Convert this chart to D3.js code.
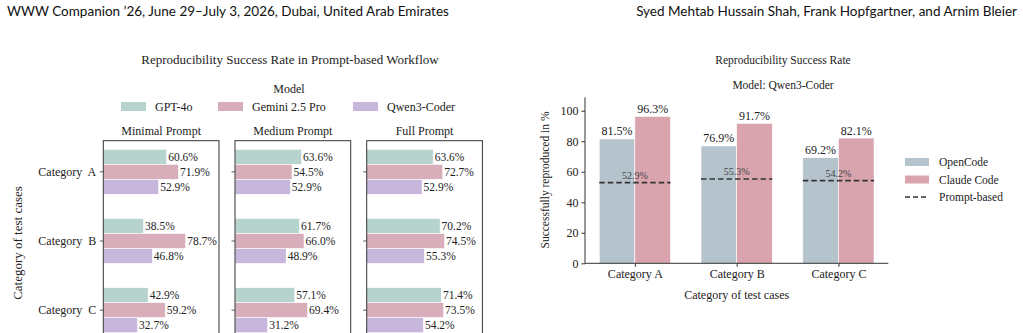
<!DOCTYPE html>
<html>
<head>
<meta charset="utf-8">
<script src="https://d3js.org/d3.v7.min.js"></script>
<style>
body { margin: 0; background: #fff; }
svg text { font-family: "Liberation Serif", "DejaVu Serif", "Noto Serif", Tinos, "Times New Roman", Times, serif; fill: #222; }
svg text.hdr { font-family: "Lato", "Open Sans", sans-serif; font-size: 13.5px; fill: #111; }
</style>
</head>
<body>
<svg id="chart" width="1023" height="333" font-family="Liberation Serif, DejaVu Serif, serif"></svg>
<script>
// ---- data: left chart (prompt-based workflow) ----
const categories = ["A", "B", "C"];
const models = ["GPT-4o", "Gemini 2.5 Pro", "Qwen3-Coder"];
const prompts = ["Minimal Prompt", "Medium Prompt", "Full Prompt"];
// values[prompt][category] = [GPT-4o, Gemini, Qwen]
const minimalVals = [[60.6, 71.9, 52.9], [38.5, 78.7, 46.8], [42.9, 59.2, 32.7]];
const mediumVals  = [[63.6, 54.5, 52.9], [61.7, 66.0, 48.9], [57.1, 69.4, 31.2]];
const fullVals    = [[63.6, 72.7, 52.9], [70.2, 74.5, 55.3], [71.4, 73.5, 54.2]];
const modelColors = ["#b7d3cd", "#d9aebb", "#c7b7dc"];

// ---- data: right chart (Qwen3-Coder) ----
const toolNames = ["OpenCode", "Claude Code"];
const openCodeVals = [81.5, 76.9, 69.2];
const claudeCodeVals = [96.3, 91.7, 82.1];
const promptBasedVals = [52.9, 55.3, 54.2];
const toolColors = ["#b5c3cd", "#d9a4ae"];
const yTicks = [0, 20, 40, 60, 80, 100];

const serif = "'Liberation Serif', 'DejaVu Serif', 'Noto Serif', Tinos, serif";
const svg = d3.select("#chart");

// header line
svg.append("text").attr("class", "hdr").attr("x", 7).attr("y", 16)
  .text("WWW Companion \u201926, June 29\u2013July 3, 2026, Dubai, United Arab Emirates");
svg.append("text").attr("class", "hdr").attr("x", 1017).attr("y", 16)
  .attr("text-anchor", "end")
  .text("Syed Mehtab Hussain Shah, Frank Hopfgartner, and Arnim Bleier");

// ================= left chart =================
svg.append("text").attr("x", 290).attr("y", 64).attr("text-anchor", "middle")
  .attr("font-size", 13).text("Reproducibility Success Rate in Prompt-based Workflow");
svg.append("text").attr("x", 289).attr("y", 93).attr("text-anchor", "middle")
  .attr("font-size", 12).text("Model");

const legX = [121, 218, 353];
models.forEach((m, i) => {
  svg.append("rect").attr("x", legX[i]).attr("y", 102).attr("width", 25).attr("height", 9)
    .attr("fill", modelColors[i]);
  svg.append("text").attr("x", legX[i] + 34).attr("y", 111).attr("font-size", 12).text(m);
});

const panelX = [103.3, 235, 366.7];
const panelW = 115.7;
const allVals = [minimalVals, mediumVals, fullVals];
const y = d3.scaleLinear().domain([-0.45, 2.45]).range([140.7, 341.3]);
const hue = d3.scaleBand().domain([0, 1, 2]).range([-22.5, 22.5]);
const x = d3.scaleLinear().domain([0, 110.6]).range([0, panelW]);

prompts.forEach((p, pi) => {
  const g = svg.append("g").attr("transform", `translate(${panelX[pi]},0)`);
  g.append("text").attr("x", panelW / 2).attr("y", 135).attr("text-anchor", "middle")
    .attr("font-size", 12).text(p);
  categories.forEach((c, ci) => {
    allVals[pi][ci].forEach((v, mi) => {
      const yy = y(ci) + hue(mi);
      g.append("rect").attr("x", x(0)).attr("y", yy).attr("width", x(v))
        .attr("height", hue.bandwidth()).attr("fill", modelColors[mi])
        .attr("stroke", "#fff").attr("stroke-width", 0.6);
      g.append("text").attr("x", x(v) + 1.5).attr("y", yy + hue.bandwidth() / 2 + 4)
        .attr("font-size", 11.5).text(v.toFixed(1) + "%");
    });
    g.append("line").attr("x1", -3.5).attr("x2", 0).attr("y1", y(ci)).attr("y2", y(ci))
      .attr("stroke", "#333").attr("stroke-width", 0.8);
    if (pi === 0) {
      g.append("text").attr("x", -7).attr("y", y(ci) + 4).attr("text-anchor", "end")
        .attr("font-size", 12).attr("xml:space", "preserve").text("Category  " + c);
    }
  });
  g.append("rect").attr("x", 0).attr("y", y.range()[0]).attr("width", panelW)
    .attr("height", y.range()[1] - y.range()[0]).attr("fill", "none")
    .attr("stroke", "#333").attr("stroke-width", 1);
});

svg.append("text").attr("transform", "translate(22,243) rotate(-90)")
  .attr("text-anchor", "middle").attr("font-size", 13).text("Category of test cases");

// ================= right chart =================
const rx = d3.scaleLinear().domain([-0.49, 2.49]).range([585, 888.3]);
const ry = d3.scaleLinear().domain([0, 108.8]).range([263.3, 97.3]);
const bw = rx(0.35) - rx(0);

svg.append("text").attr("x", 783).attr("y", 64).attr("text-anchor", "middle")
  .attr("font-size", 11.5).text("Reproducibility Success Rate");
svg.append("text").attr("x", 783).attr("y", 89).attr("text-anchor", "middle")
  .attr("font-size", 11.5).text("Model: Qwen3-Coder");

const series = [openCodeVals, claudeCodeVals];
series.forEach((vals, si) => {
  vals.forEach((v, ci) => {
    const x0 = rx(ci) - bw + si * bw;
    svg.append("rect").attr("x", x0).attr("y", ry(v)).attr("width", bw)
      .attr("height", ry(0) - ry(v)).attr("fill", toolColors[si])
      .attr("stroke", "#fff").attr("stroke-width", 0.6);
    svg.append("text").attr("x", x0 + bw / 2).attr("y", ry(v) - 3.5)
      .attr("text-anchor", "middle").attr("font-size", 12).text(v.toFixed(1) + "%");
  });
});

promptBasedVals.forEach((v, ci) => {
  svg.append("line").attr("x1", rx(ci) - bw).attr("x2", rx(ci) + bw)
    .attr("y1", ry(v)).attr("y2", ry(v))
    .attr("stroke", "#333").attr("stroke-width", 1.6).attr("stroke-dasharray", "5.5,3");
  svg.append("text").attr("x", rx(ci)).attr("y", ry(v) - 4)
    .attr("text-anchor", "middle").attr("font-size", 10)
    .style("fill", "#444").text(v.toFixed(1) + "%");
});

const yAxis = svg.append("g").attr("transform", "translate(585,0)")
  .call(d3.axisLeft(ry).tickValues(yTicks).tickSize(3.5).tickPadding(3));
const xAxis = svg.append("g").attr("transform", `translate(0,${ry(0)})`)
  .call(d3.axisBottom(rx).tickValues([0, 1, 2]).tickSize(3.5).tickPadding(3)
    .tickFormat(i => "Category " + categories[i]));
[yAxis, xAxis].forEach(a => {
  a.attr("font-family", serif);
  a.selectAll("text").attr("font-size", 12).style("font-family", serif).style("fill", "#222");
  a.selectAll("line").attr("stroke", "#333");
  a.select(".domain").attr("stroke", "#333");
});
xAxis.select(".domain").attr("d", "M585,0H888.3");
yAxis.select(".domain").attr("d", "M0,97.3V263.3");

svg.append("text").attr("transform", "translate(549,180) rotate(-90)")
  .attr("text-anchor", "middle").attr("font-size", 11.5).text("Successfully reproduced in %");
svg.append("text").attr("x", 736.7).attr("y", 299).attr("text-anchor", "middle")
  .attr("font-size", 12).text("Category of test cases");

// right legend
toolNames.forEach((t, i) => {
  svg.append("rect").attr("x", 905).attr("y", 158 + i * 17.5).attr("width", 24).attr("height", 8)
    .attr("fill", toolColors[i]);
  svg.append("text").attr("x", 939).attr("y", 166 + i * 17.5).attr("font-size", 11.5).text(t);
});
svg.append("line").attr("x1", 905).attr("x2", 929).attr("y1", 197).attr("y2", 197)
  .attr("stroke", "#333").attr("stroke-width", 1.6).attr("stroke-dasharray", "5,3");
svg.append("text").attr("x", 939).attr("y", 201).attr("font-size", 11.5).text("Prompt-based");

// make sure every non-header label is serif
svg.selectAll("text:not(.hdr)").style("font-family", serif);
</script>
</body>
</html>
